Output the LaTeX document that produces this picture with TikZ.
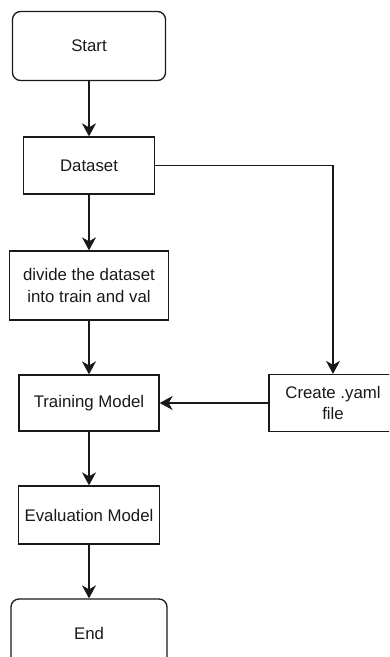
\documentclass[tikz,border=0pt]{standalone}
\usepackage{fontspec}
\setmainfont{Liberation Sans}
\usetikzlibrary{arrows.meta}

\tikzset{
    terminal/.style={draw, line width=1.3pt, rounded corners=8pt, minimum width=153pt, minimum height=69pt, align=center},
    stepbox/.style={draw, line width=1.3pt, align=center, inner sep=2pt},
    flow/.style={-{Stealth[length=13pt,width=14pt,inset=4pt]}, line width=1.1pt},
}

\begin{document}
\begin{tikzpicture}[x=1pt, y=1pt, font=\fontsize{16.8}{21.5}\selectfont, color={rgb,255:red,25; green,25; blue,25}]

        % Page frame
        \useasboundingbox (0,0) rectangle (389,-657);
        \clip (0,0) rectangle (389,-657);

        % Start and end
        \node[terminal] (start) at (89,-46) {Start};
        \node[terminal, minimum width=156pt] (end) at (89,-633.5) {End};

        % Steps of the main column
        \node[stepbox, minimum width=131pt, minimum height=57pt] (dataset) at (89,-165.5) {Dataset};
        \node[stepbox, minimum width=159pt, minimum height=69pt] (divide) at (89,-285.5) {divide the dataset\\into train and val};
        \node[stepbox, minimum width=140pt, minimum height=56pt] (train) at (89,-403) {Training Model};
        \node[stepbox, minimum width=141pt, minimum height=58pt] (eval) at (89,-515) {Evaluation Model};

        % Side step
        \node[stepbox, minimum width=128pt, minimum height=57pt] (yaml) at (333,-403) {Create .yaml\\file};

        % Connectors
        \draw[flow, line width=2pt] (start) -- (dataset);
        \draw[flow] (dataset) -- (divide);
        \draw[flow] (divide) -- (train);
        \draw[flow] (train) -- (eval);
        \draw[flow] (eval) -- (end);
        \draw[flow] (dataset.east) -| (yaml.north);
        \draw[flow] (yaml.west) -- (train.east);

    \end{tikzpicture}
\end{document}
